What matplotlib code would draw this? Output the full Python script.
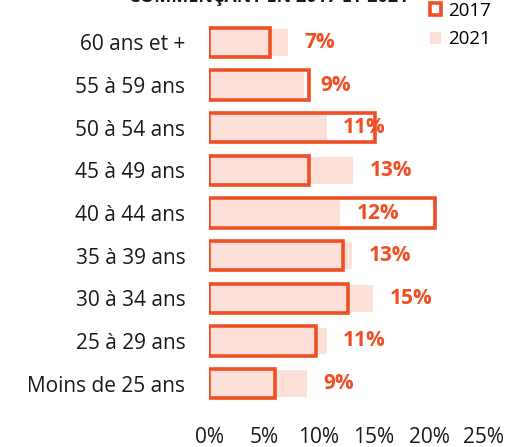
import matplotlib
matplotlib.use("Agg")
import matplotlib.pyplot as plt
from matplotlib.patches import Patch

plt.rcParams['font.family'] = ['Open Sans', 'DejaVu Sans']

categories = ["60 ans et +", "55 à 59 ans", "50 à 54 ans", "45 à 49 ans", "40 à 44 ans",
              "35 à 39 ans", "30 à 34 ans", "25 à 29 ans", "Moins de 25 ans"]
values_2017 = [5.5, 9.1, 15.1, 9.1, 20.5, 12.2, 12.6, 9.7, 6.0]
values_2021 = [7.2, 8.6, 10.7, 13.1, 11.9, 13.0, 14.9, 10.7, 8.9]
labels_2021 = ["7%", "9%", "11%", "13%", "12%", "13%", "15%", "11%", "9%"]
xticks = [0, 5, 10, 15, 20, 25]
xticklabels = ["0%", "5%", "10%", "15%", "20%", "25%"]
title = "COMMENÇANT EN 2017 ET 2021"

orange = "#F04E23"
pink = "#FDE0DA"

fig = plt.figure(figsize=(5.21, 4.47), dpi=100)
ax = fig.add_axes([209/521, 1-405/447, 275/521, 384/447])

y = list(range(len(categories)))
ax.barh(y, values_2021, height=0.63, color=pink, zorder=1)
ax.barh(y, values_2017, height=0.68, facecolor='none', edgecolor=orange, linewidth=2.6, zorder=2)

for yi, v, lab in zip(y, values_2021, labels_2021):
    ax.text(v + 1.5, yi, lab, va='center', ha='left', color=orange,
            fontsize=15, fontweight='bold', zorder=3)

ax.set_xlim(0, 25)
ax.set_ylim(len(categories) - 0.5, -0.5)
ax.set_yticks(y)
ax.set_yticklabels(categories, fontsize=15, color='#1a1a1a')
ax.set_xticks(xticks)
ax.set_xticklabels(xticklabels, fontsize=15, color='#1a1a1a')
ax.tick_params(axis='both', length=0)
ax.tick_params(axis='y', pad=17)
ax.tick_params(axis='x', pad=16)
for s in ax.spines.values():
    s.set_visible(False)

fig.text(269/521, 1 - 2/447, title, ha='center', va='baseline', fontsize=13,
         fontweight='bold', color='#1a1a1a')

handles = [Patch(facecolor='white', edgecolor=orange, linewidth=2.6),
           Patch(facecolor=pink, edgecolor='none')]
fig.legend(handles, ["2017", "2021"], loc='upper left',
           bbox_to_anchor=(413/521, 1 + 15/447), frameon=False, fontsize=13.5,
           handlelength=0.6, handleheight=0.6, handletextpad=0.35, labelspacing=0.55)

fig.savefig("out.png", dpi=100)
